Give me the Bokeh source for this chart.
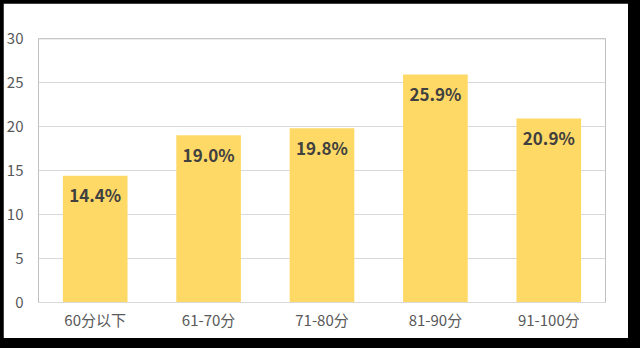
from bokeh.plotting import figure
from bokeh.models import ColumnDataSource, FactorRange, Range1d, FixedTicker, BoxAnnotation
from bokeh.layouts import column
from bokeh.embed import file_html
from bokeh.resources import INLINE

categories = ["60分以下", "61-70分", "71-80分", "81-90分", "91-100分"]
values = [14.4, 19.0, 19.8, 25.9, 20.9]
labels = ["14.4%", "19.0%", "19.8%", "25.9%", "20.9%"]
yticks = [0, 5, 10, 15, 20, 25, 30]

src = ColumnDataSource(dict(cat=categories, val=values, lab=labels))

FONT = "Noto Sans CJK SC"
Y_MAX = 30
FRAME_H = 335 - 35 - 36
PX = Y_MAX / FRAME_H  # one pixel in data units

p = figure(x_range=FactorRange(*categories, range_padding=0),
           y_range=Range1d(0, Y_MAX),
           width=625, height=335, output_backend="svg", toolbar_location=None,
           min_border_left=35, min_border_right=23, min_border_top=35, min_border_bottom=36,
           margin=(3, 12, 10, 3))
p.outline_line_color = None
p.background_fill_color = "white"
p.border_fill_color = "white"

# gridlines as thin filled bands (no strokes inside the frame)
for t in yticks[1:]:
    if t >= Y_MAX:
        b, tp = t - PX, t
    else:
        b, tp = t - PX / 2, t + PX / 2
    p.add_layout(BoxAnnotation(bottom=b, top=tp, fill_color="#D9D9D9", fill_alpha=1.0,
                               line_color=None, level="underlay"))

p.vbar(x="cat", top="val", width=0.57, source=src, fill_color="#FFD966", line_color=None)
p.text(x="cat", y="val", text="lab", source=src, text_align="center", text_baseline="middle",
       y_offset=19, text_font_size="17px", text_font_style="bold", text_color="#404040",
       text_font={"value": FONT})

p.yaxis.ticker = FixedTicker(ticks=yticks)
for ax in (p.xaxis[0], p.yaxis[0]):
    ax.major_tick_line_color = None
    ax.minor_tick_line_color = None
    ax.major_label_text_font = FONT
    ax.major_label_text_font_size = "15px"
    ax.major_label_text_color = "#595959"
p.yaxis[0].axis_line_color = None
p.yaxis[0].major_label_standoff = 9
p.xaxis[0].axis_line_color = "#D9D9D9"
p.xaxis[0].major_label_standoff = 0
p.xgrid.grid_line_color = None
p.ygrid.grid_line_color = None

lay = column(p, width=640, height=348, styles={"background-color": "black"})

open("out.html", "w").write(file_html(lay, INLINE))
